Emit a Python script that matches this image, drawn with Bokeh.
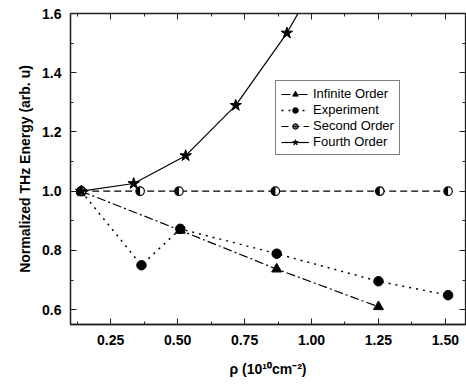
import math
from bokeh.plotting import figure
from bokeh.models import (Range1d, LinearAxis, Legend, LegendItem, FixedTicker,
                          CustomJSTickFormatter)
from bokeh.embed import file_html
from bokeh.resources import INLINE

# ---- data ----
rho_inf = [0.14, 0.51, 0.87, 1.25]
e_inf = [1.0, 0.868, 0.737, 0.61]

rho_exp = [0.14, 0.365, 0.51, 0.87, 1.25, 1.51]
e_exp = [1.0, 0.75, 0.873, 0.789, 0.696, 0.649]

rho_2nd = [0.14, 0.36, 0.505, 0.865, 1.255, 1.51]
e_2nd = [1.0, 1.0, 1.0, 1.0, 1.0, 1.0]

rho_4th = [0.14, 0.336, 0.53, 0.717, 0.908, 1.10]
e_4th = [1.0, 1.026, 1.12, 1.29, 1.534, 1.84]

x_ticks = [0.25, 0.50, 0.75, 1.00, 1.25, 1.50]
x_tick_labels = ["0.25", "0.50", "0.75", "1.00", "1.25", "1.50"]
y_ticks = [0.6, 0.8, 1.0, 1.2, 1.4, 1.6]
y_tick_labels = ["0.6", "0.8", "1.0", "1.2", "1.4", "1.6"]

FONT = "Liberation Sans"
X_MINOR = [0.125 * i for i in range(1, 13)]
Y_MINOR = [0.1 * i for i in range(5, 17)]

p = figure(width=466, height=386, output_backend="svg", toolbar_location=None,
           x_range=Range1d(0.1, 1.575), y_range=Range1d(0.55, 1.6),
           min_border_left=70, min_border_right=1, min_border_top=13,
           min_border_bottom=62)
p.grid.visible = False
p.outline_line_color = "#222222"
p.outline_line_width = 1.3
p.background_fill_color = "white"
p.border_fill_color = "white"

p.xaxis.ticker = FixedTicker(ticks=x_ticks, minor_ticks=X_MINOR)
p.xaxis.major_label_overrides = dict(zip(x_ticks, x_tick_labels))
p.yaxis.ticker = FixedTicker(ticks=y_ticks, minor_ticks=Y_MINOR)
p.yaxis.major_label_overrides = dict(zip(y_ticks, y_tick_labels))

p.xaxis.axis_label = "ρ (10¹⁰cm⁻²)"
p.yaxis.axis_label = "Normalized THz Energy (arb. u)"

for ax in [p.xaxis[0], p.yaxis[0]]:
    ax.major_tick_in = 6
    ax.major_tick_out = 0
    ax.minor_tick_in = 3
    ax.minor_tick_out = 0
    ax.axis_line_width = 1.3
    ax.axis_line_color = "#222222"
    ax.major_tick_line_color = "#222222"
    ax.minor_tick_line_color = "#222222"
    ax.major_label_text_font = FONT
    ax.major_label_text_font_style = "bold"
    ax.major_label_text_font_size = "14px"
    ax.major_label_text_color = "black"
    ax.axis_label_text_font = FONT
    ax.axis_label_text_font_style = "bold"
    ax.axis_label_text_font_size = "14px"
    ax.axis_label_text_color = "black"
p.xaxis.major_label_standoff = 10
p.xaxis.axis_label_standoff = 13
p.yaxis.major_label_standoff = 9
p.yaxis.axis_label_standoff = 6

# mirrored tick axes
blank = CustomJSTickFormatter(code="return ''")
top = LinearAxis(ticker=FixedTicker(ticks=x_ticks, minor_ticks=X_MINOR),
                 formatter=blank, major_tick_in=6, major_tick_out=0, minor_tick_in=3,
                 minor_tick_out=0, major_label_text_font_size="0px", major_label_standoff=0,
                 axis_line_color=None, major_tick_line_color="#222222",
                 minor_tick_line_color="#222222")
right = LinearAxis(ticker=FixedTicker(ticks=y_ticks, minor_ticks=Y_MINOR),
                   formatter=blank, major_tick_in=6, major_tick_out=0, minor_tick_in=3,
                   minor_tick_out=0, major_label_text_font_size="0px", major_label_standoff=0,
                   axis_line_color=None, major_tick_line_color="#222222",
                   minor_tick_line_color="#222222")
p.add_layout(top, "above")
p.add_layout(right, "right")

# Infinite order
l_inf = p.line(rho_inf, e_inf, line_color="black", line_width=1.2, line_dash="9 3 2 3")
m_inf = p.scatter(rho_inf, e_inf, marker="triangle", size=10, fill_color="black", line_color="black")

# Experiment
l_exp = p.line(rho_exp, e_exp, line_color="black", line_width=1.5, line_dash="2 5")
m_exp = p.scatter(rho_exp, e_exp, marker="circle", size=9.5, fill_color="black", line_color="black")

# Second order
l_2nd = p.line(rho_2nd, e_2nd, line_color="black", line_width=1.2, line_dash="7 4")
m_2nd = p.scatter(rho_2nd, e_2nd, marker="circle", size=8.5, fill_color="white", line_color="black", line_width=1.2)
w_2nd = p.wedge(rho_2nd, e_2nd, radius=4.2, radius_units="screen", start_angle=math.pi / 2,
                end_angle=3 * math.pi / 2, direction="anticlock", fill_color="black", line_color=None)
m_2nd_leg = p.scatter(rho_2nd, e_2nd, marker="circle", size=8.5, fill_color="black",
                      fill_alpha=0.6, line_color="black", visible=False)

# Fourth order
l_4th = p.line(rho_4th, e_4th, line_color="black", line_width=1.2)
m_4th = p.scatter(rho_4th, e_4th, marker="star", size=12, fill_color="black", line_color="black")

legend = Legend(items=[
    LegendItem(label="Infinite Order", renderers=[l_inf, m_inf]),
    LegendItem(label="Experiment", renderers=[l_exp, m_exp]),
    LegendItem(label="Second Order", renderers=[l_2nd, m_2nd_leg]),
    LegendItem(label="Fourth Order", renderers=[l_4th, m_4th]),
], location=(205, 169))
legend.label_text_font = FONT
legend.label_text_font_size = "13px"
legend.label_text_color = "black"
legend.label_height = 14
legend.glyph_height = 14
legend.glyph_width = 28
legend.spacing = 1
legend.padding = 5
legend.margin = 0
legend.label_standoff = 4
legend.border_line_color = "black"
legend.border_line_width = 1
legend.background_fill_alpha = 1
p.add_layout(legend, "center")

open("out.html", "w").write(file_html(p, INLINE))
